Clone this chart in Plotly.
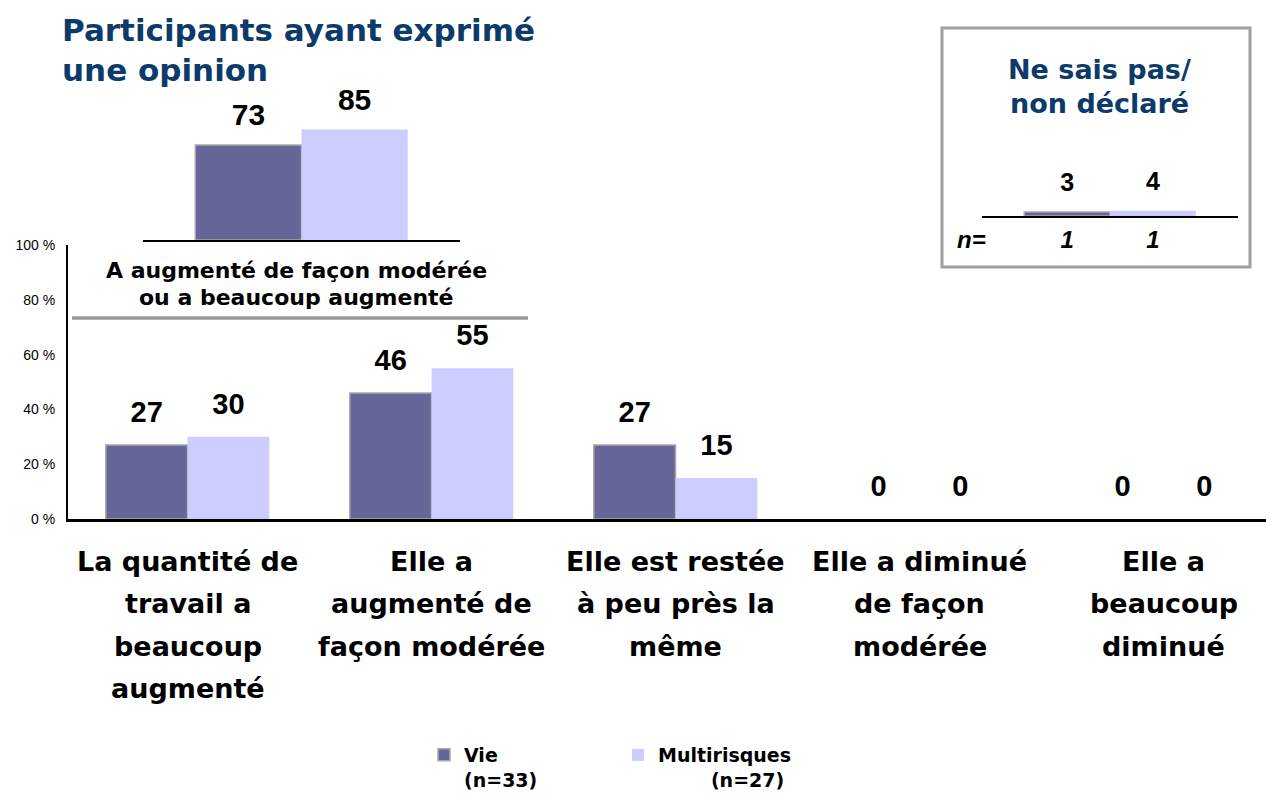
import plotly.graph_objects as go

# --- data -------------------------------------------------------------------
categories = [
    "La quantité de<br>travail a<br>beaucoup<br>augmenté",
    "Elle a<br>augmenté de<br>façon modérée",
    "Elle est restée<br>à peu près la<br>même",
    "Elle a diminué<br>de façon<br>modérée",
    "Elle a<br>beaucoup<br>diminué",
]
vie = [27, 46, 27, 0, 0]
multi = [30, 55, 15, 0, 0]

summary_cat = ["A augmenté de façon modérée<br>ou a beaucoup augmenté"]
summary_vie = [73]
summary_multi = [85]

nsp_cat = ["Ne sais pas/<br>non déclaré"]
nsp_vie = [3]
nsp_multi = [4]
nsp_n_vie = [1]
nsp_n_multi = [1]

series_names = ["Vie", "Multirisques"]
series_n = [33, 27]
y_ticks = [0, 20, 40, 60, 80, 100]

title_lines = ["Participants ayant exprimé", "une opinion"]

# --- style ------------------------------------------------------------------
W, H = 1266, 796
NUM_FONT = "Liberation Sans, Arial, sans-serif"
TXT_FONT = "DejaVu Sans, Arial, sans-serif"
C_VIE = "#666699"
C_MULTI = "#CCCCFF"
C_EDGE = "#A8A8A8"
NAVY = "#0B3A6B"
GAP = 0.33


def px(x):
    return x / W


def py(y):
    return 1 - y / H


def edge(vals):
    # grey outline only on visible bars
    return [1.5 if v else 0 for v in vals]


fig = go.Figure()

# main bars
for name, vals, col, lw, grp in [(series_names[0], vie, C_VIE, edge(vie), "vie"),
                                 (series_names[1], multi, C_MULTI, 0, "multi")]:
    fig.add_trace(go.Bar(x=categories, y=vals, name=name, marker_color=col,
                         marker_line=dict(color=C_EDGE, width=lw),
                         offsetgroup=grp, showlegend=False, hoverinfo="skip"))
    fig.add_trace(go.Scatter(x=categories, y=vals, text=[str(v) for v in vals],
                             mode="markers+text", textposition="top center",
                             marker=dict(size=24, color="rgba(0,0,0,0)"),
                             textfont=dict(size=29, color="black", family=NUM_FONT, weight="bold"),
                             offsetgroup=grp, showlegend=False, hoverinfo="skip",
                             cliponaxis=False))

# summary inset
for vals, col, lw, grp in [(summary_vie, C_VIE, 1.5, "vie"), (summary_multi, C_MULTI, 0, "multi")]:
    fig.add_trace(go.Bar(x=summary_cat, y=vals, marker_color=col,
                         marker_line=dict(color=C_EDGE, width=lw),
                         offsetgroup=grp, xaxis="x2", yaxis="y2",
                         showlegend=False, hoverinfo="skip"))
    fig.add_trace(go.Scatter(x=summary_cat, y=vals, text=[str(v) for v in vals],
                             mode="markers+text", textposition="top center",
                             marker=dict(size=18, color="rgba(0,0,0,0)"),
                             textfont=dict(size=30, color="black", family=NUM_FONT, weight="bold"),
                             offsetgroup=grp, xaxis="x2", yaxis="y2",
                             showlegend=False, hoverinfo="skip", cliponaxis=False))

# "ne sais pas" inset
for vals, nvals, col, lw, grp in [(nsp_vie, nsp_n_vie, C_VIE, 1.5, "vie"),
                                  (nsp_multi, nsp_n_multi, C_MULTI, 0, "multi")]:
    fig.add_trace(go.Bar(x=nsp_cat, y=vals, marker_color=col,
                         marker_line=dict(color=C_EDGE, width=lw),
                         offsetgroup=grp, xaxis="x3", yaxis="y3",
                         showlegend=False, hoverinfo="skip"))
    fig.add_trace(go.Scatter(x=nsp_cat, y=vals, text=[str(v) for v in vals],
                             mode="markers+text", textposition="top center",
                             marker=dict(size=22, color="rgba(0,0,0,0)"),
                             textfont=dict(size=25, color="black", family=NUM_FONT, weight="bold"),
                             offsetgroup=grp, xaxis="x3", yaxis="y3",
                             showlegend=False, hoverinfo="skip", cliponaxis=False))
    fig.add_trace(go.Scatter(x=nsp_cat, y=[0], text=[str(v) for v in nvals],
                             mode="markers+text", textposition="bottom center",
                             marker=dict(size=20, color="rgba(0,0,0,0)"),
                             textfont=dict(size=24, color="black", family=NUM_FONT,
                                           weight="bold", style="italic"),
                             offsetgroup=grp, xaxis="x3", yaxis="y3",
                             showlegend=False, hoverinfo="skip", cliponaxis=False))

# legend entries
for name, n, col, lw in [(series_names[0], series_n[0], C_VIE, 1.5),
                         (series_names[1], series_n[1], C_MULTI, 0)]:
    pad = "" if name == series_names[0] else "\u00a0" * 8
    fig.add_trace(go.Bar(x=[None], y=[None], name=f"{name}<br>{pad}(n={n})",
                         marker_color=col, marker_line=dict(color=C_EDGE, width=lw),
                         showlegend=True, hoverinfo="skip"))

annotations = []
# title
for i, line in enumerate(title_lines):
    annotations.append(dict(text=line, x=px(60), y=py(30 + 40 * i), xref="paper", yref="paper",
                            xanchor="left", yanchor="middle", showarrow=False,
                            font=dict(size=31, color=NAVY, family=TXT_FONT, weight="bold")))
# category labels (one annotation per line, positioned on the category axis)
for cat in categories:
    for j, line in enumerate(cat.split("<br>")):
        annotations.append(dict(text=line, x=cat, xref="x", y=py(561 + 42.5 * j), yref="paper",
                                xanchor="center", yanchor="middle", showarrow=False,
                                font=dict(size=27, color="black", family=TXT_FONT, weight="bold")))
# summary label
for j, line in enumerate(summary_cat[0].split("<br>")):
    annotations.append(dict(text=line, x=px(296), y=py(270 + 27 * j), xref="paper", yref="paper",
                            xanchor="center", yanchor="middle", showarrow=False,
                            font=dict(size=22, color="black", family=TXT_FONT, weight="bold")))
# ne sais pas title
for j, line in enumerate(nsp_cat[0].split("<br>")):
    annotations.append(dict(text=line, x=px(1099), y=py(69 + 34 * j), xref="paper", yref="paper",
                            xanchor="center", yanchor="middle", showarrow=False,
                            font=dict(size=27, color=NAVY, family=TXT_FONT, weight="bold")))
annotations.append(dict(text="n=", x=px(955), y=py(239), xref="paper", yref="paper",
                        xanchor="left", yanchor="middle", showarrow=False,
                        font=dict(size=24, color="black", family=NUM_FONT, weight="bold", style="italic")))

shapes = [
    dict(type="line", xref="paper", yref="paper", x0=px(72), x1=px(528), y0=py(318), y1=py(318),
         line=dict(color="#9A9A9A", width=3.5)),
    dict(type="rect", xref="paper", yref="paper", x0=px(942), x1=px(1250), y0=py(28), y1=py(267),
         line=dict(color="#A0A0A0", width=3)),
]

fig.update_layout(
    width=W, height=H,
    margin=dict(l=0, r=0, t=0, b=0, autoexpand=False),
    paper_bgcolor="white", plot_bgcolor="rgba(0,0,0,0)",
    barmode="group", bargap=GAP, bargroupgap=0,
    scattermode="group", scattergap=GAP,
    font=dict(family=NUM_FONT, color="black"),
    xaxis=dict(domain=[px(68), 1], range=[-0.49, 4.42], showticklabels=False,
               showline=True, linecolor="black", linewidth=2.5, showgrid=False,
               zeroline=False, fixedrange=True),
    yaxis=dict(domain=[py(519), py(245)], range=[0, 100], tickmode="array",
               tickvals=y_ticks, ticktext=[f"{v} %" for v in y_ticks],
               showline=True, linecolor="black", linewidth=2,
               showgrid=False, zeroline=False, ticks="", ticklabelstandoff=8,
               tickfont=dict(size=14, color="black", family=NUM_FONT)),
    xaxis2=dict(domain=[px(143), px(460)], anchor="y2", showticklabels=False,
                showline=True, linecolor="black", linewidth=2, showgrid=False, zeroline=False),
    yaxis2=dict(domain=[py(240), py(110)], anchor="x2", range=[0, 100], visible=False),
    xaxis3=dict(domain=[px(982), px(1238)], anchor="y3", showticklabels=False,
                showline=True, linecolor="black", linewidth=2, showgrid=False, zeroline=False),
    yaxis3=dict(domain=[py(216), py(86)], anchor="x3", range=[0, 100], visible=False),
    legend=dict(orientation="h", x=px(424), y=py(736), xanchor="left", yanchor="top",
                valign="top", entrywidth=149, bgcolor="rgba(0,0,0,0)",
                font=dict(size=19, color="black", family=TXT_FONT, weight="bold")),
    annotations=annotations,
    shapes=shapes,
)

# pin the graph to the top-left corner of the page, no page margins or scrollbars
pin = ("document.body.style.margin='0';"
       "document.documentElement.style.overflow='hidden';"
       "var d=document.getElementById('{plot_id}');"
       "d.style.position='fixed';d.style.top='0';d.style.left='0';")
fig.write_html("out.html", config={"displayModeBar": False}, post_script=pin)
